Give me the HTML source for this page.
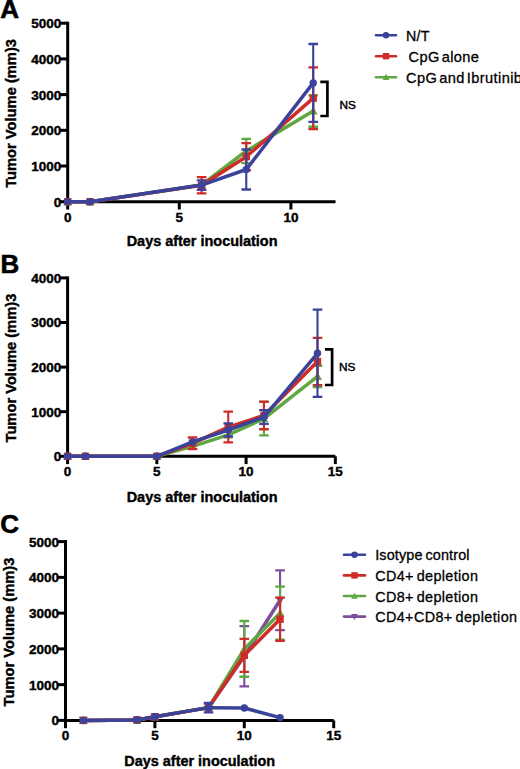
<!DOCTYPE html>
<html><head><meta charset="utf-8"><title>Tumor volume</title>
<style>
html,body{margin:0;padding:0;background:#fff;}
body{width:520px;height:769px;overflow:hidden;}
svg{display:block;font-family:"Liberation Sans",sans-serif;}
</style></head>
<body>
<svg width="520" height="769" viewBox="0 0 520 769" fill="#000">
<text x="0.3" y="18" font-size="26" font-weight="bold" stroke="#000" stroke-width="0.6">A</text>
<text transform="translate(15.8,113.45) rotate(-90)" text-anchor="middle" font-size="14.7" font-weight="bold" stroke="#000" stroke-width="0.4">Tumor Volume (mm)3</text>
<path d="M67.7,21.7 V201.7 H335.54" fill="none" stroke="#000" stroke-width="3"/>
<line x1="59.9" y1="201.7" x2="67.7" y2="201.7" stroke="#000" stroke-width="3"/>
<text x="61.3" y="206.6" text-anchor="end" font-size="13.5" font-weight="bold" stroke="#000" stroke-width="0.4">0</text>
<line x1="59.9" y1="166" x2="67.7" y2="166" stroke="#000" stroke-width="3"/>
<text x="61.3" y="170.9" text-anchor="end" font-size="13.5" font-weight="bold" stroke="#000" stroke-width="0.4">1000</text>
<line x1="59.9" y1="130.3" x2="67.7" y2="130.3" stroke="#000" stroke-width="3"/>
<text x="61.3" y="135.2" text-anchor="end" font-size="13.5" font-weight="bold" stroke="#000" stroke-width="0.4">2000</text>
<line x1="59.9" y1="94.6" x2="67.7" y2="94.6" stroke="#000" stroke-width="3"/>
<text x="61.3" y="99.5" text-anchor="end" font-size="13.5" font-weight="bold" stroke="#000" stroke-width="0.4">3000</text>
<line x1="59.9" y1="58.9" x2="67.7" y2="58.9" stroke="#000" stroke-width="3"/>
<text x="61.3" y="63.8" text-anchor="end" font-size="13.5" font-weight="bold" stroke="#000" stroke-width="0.4">4000</text>
<line x1="59.9" y1="23.2" x2="67.7" y2="23.2" stroke="#000" stroke-width="3"/>
<text x="61.3" y="28.1" text-anchor="end" font-size="13.5" font-weight="bold" stroke="#000" stroke-width="0.4">5000</text>
<line x1="67.7" y1="201.7" x2="67.7" y2="209.5" stroke="#000" stroke-width="3"/>
<text x="67.7" y="221.7" text-anchor="middle" font-size="13.5" font-weight="bold" stroke="#000" stroke-width="0.4">0</text>
<line x1="179.3" y1="201.7" x2="179.3" y2="209.5" stroke="#000" stroke-width="3"/>
<text x="179.3" y="221.7" text-anchor="middle" font-size="13.5" font-weight="bold" stroke="#000" stroke-width="0.4">5</text>
<line x1="290.9" y1="201.7" x2="290.9" y2="209.5" stroke="#000" stroke-width="3"/>
<text x="290.9" y="221.7" text-anchor="middle" font-size="13.5" font-weight="bold" stroke="#000" stroke-width="0.4">10</text>
<text x="202.1" y="246.4" text-anchor="middle" font-size="14.45" font-weight="bold" stroke="#000" stroke-width="0.4">Days after inoculation</text>
<path d="M246.26,138.87 V163.14" stroke="#5ea742" stroke-width="2.1" fill="none"/>
<path d="M241.46,138.87 H251.06 M241.46,163.14 H251.06" stroke="#5ea742" stroke-width="2.3" fill="none"/>
<path d="M313.22,95.31 V126.73" stroke="#5ea742" stroke-width="2.1" fill="none"/>
<path d="M308.42,95.31 H318.02 M308.42,126.73 H318.02" stroke="#5ea742" stroke-width="2.3" fill="none"/>
<polyline points="67.7,201.7 90.02,201.7 201.62,184.92 246.26,151.01 313.22,111.02" fill="none" stroke="#5ea742" stroke-width="3.5" stroke-linejoin="round"/>
<polygon points="63.26,205.25 72.14,205.25 67.7,197.26" fill="#5ea742"/>
<polygon points="85.58,205.25 94.46,205.25 90.02,197.26" fill="#5ea742"/>
<polygon points="197.18,188.47 206.06,188.47 201.62,180.48" fill="#5ea742"/>
<polygon points="241.82,154.56 250.7,154.56 246.26,146.57" fill="#5ea742"/>
<polygon points="308.78,114.57 317.66,114.57 313.22,106.58" fill="#5ea742"/>
<path d="M201.62,177.17 V193.31" stroke="#cf2b27" stroke-width="2.1" fill="none"/>
<path d="M196.82,177.17 H206.42 M196.82,193.31 H206.42" stroke="#cf2b27" stroke-width="2.3" fill="none"/>
<path d="M246.26,143.08 V170.36" stroke="#cf2b27" stroke-width="2.1" fill="none"/>
<path d="M241.46,143.08 H251.06 M241.46,170.36 H251.06" stroke="#cf2b27" stroke-width="2.3" fill="none"/>
<path d="M313.22,67.29 V129.05" stroke="#cf2b27" stroke-width="2.1" fill="none"/>
<path d="M308.42,67.29 H318.02 M308.42,129.05 H318.02" stroke="#cf2b27" stroke-width="2.3" fill="none"/>
<polyline points="67.7,201.7 90.02,201.7 201.62,185.24 246.26,156.72 313.22,98.17" fill="none" stroke="#cf2b27" stroke-width="3.5" stroke-linejoin="round"/>
<rect x="64" y="198" width="7.4" height="7.4" fill="#cf2b27"/>
<rect x="86.32" y="198" width="7.4" height="7.4" fill="#cf2b27"/>
<rect x="197.92" y="181.54" width="7.4" height="7.4" fill="#cf2b27"/>
<rect x="242.56" y="153.02" width="7.4" height="7.4" fill="#cf2b27"/>
<rect x="309.52" y="94.47" width="7.4" height="7.4" fill="#cf2b27"/>
<path d="M201.62,180.28 V189.92" stroke="#3a4399" stroke-width="2.1" fill="none"/>
<path d="M196.82,180.28 H206.42 M196.82,189.92 H206.42" stroke="#3a4399" stroke-width="2.3" fill="none"/>
<path d="M246.26,149.51 V189.49" stroke="#3a4399" stroke-width="2.1" fill="none"/>
<path d="M241.46,149.51 H251.06 M241.46,189.49 H251.06" stroke="#3a4399" stroke-width="2.3" fill="none"/>
<path d="M313.22,44.01 V121.84" stroke="#3a4399" stroke-width="2.1" fill="none"/>
<path d="M308.42,44.01 H318.02 M308.42,121.84 H318.02" stroke="#3a4399" stroke-width="2.3" fill="none"/>
<polyline points="67.7,201.7 90.02,201.7 201.62,185.1 246.26,169.5 313.22,82.93" fill="none" stroke="#3a4399" stroke-width="3.5" stroke-linejoin="round"/>
<circle cx="67.7" cy="201.7" r="3.7" fill="#3a4399"/>
<circle cx="90.02" cy="201.7" r="3.7" fill="#3a4399"/>
<circle cx="201.62" cy="185.1" r="3.7" fill="#3a4399"/>
<circle cx="246.26" cy="169.5" r="3.7" fill="#3a4399"/>
<circle cx="313.22" cy="82.93" r="3.7" fill="#3a4399"/>
<line x1="376" y1="35.2" x2="396" y2="35.2" stroke="#3a4399" stroke-width="2.6" stroke-linecap="round"/>
<circle cx="386" cy="35.2" r="3.2" fill="#3a4399"/>
<text x="406" y="40.8" font-size="14.2" stroke="#000" stroke-width="0.3" letter-spacing="0.3" word-spacing="0">N/T</text>
<line x1="376" y1="56.2" x2="396" y2="56.2" stroke="#cf2b27" stroke-width="2.6" stroke-linecap="round"/>
<rect x="382.8" y="53" width="6.4" height="6.4" fill="#cf2b27"/>
<text x="408.5" y="61.8" font-size="14.6" stroke="#000" stroke-width="0.3" letter-spacing="0.4" word-spacing="-2.5">CpG alone</text>
<line x1="376" y1="77.2" x2="396" y2="77.2" stroke="#5ea742" stroke-width="2.6" stroke-linecap="round"/>
<polygon points="382.64,79.89 389.36,79.89 386,73.84" fill="#5ea742"/>
<text x="406" y="82.8" font-size="14.6" stroke="#000" stroke-width="0.3" letter-spacing="0.4" word-spacing="-2.4">CpG and Ibrutinib</text>
<path d="M320.3,81.9 H327.4 V116 H320.3" fill="none" stroke="#000" stroke-width="2.7"/>
<text x="339.6" y="108.7" font-size="11.8" stroke="#000" stroke-width="0.45">NS</text>
<text x="0.6" y="272.8" font-size="26" font-weight="bold" stroke="#000" stroke-width="0.6">B</text>
<text transform="translate(15.8,368.1) rotate(-90)" text-anchor="middle" font-size="14.7" font-weight="bold" stroke="#000" stroke-width="0.4">Tumor Volume (mm)3</text>
<path d="M67.6,276.4 V456.3 H335.35" fill="none" stroke="#000" stroke-width="3"/>
<line x1="59.8" y1="456.3" x2="67.6" y2="456.3" stroke="#000" stroke-width="3"/>
<text x="61.2" y="461.2" text-anchor="end" font-size="13.5" font-weight="bold" stroke="#000" stroke-width="0.4">0</text>
<line x1="59.8" y1="411.7" x2="67.6" y2="411.7" stroke="#000" stroke-width="3"/>
<text x="61.2" y="416.6" text-anchor="end" font-size="13.5" font-weight="bold" stroke="#000" stroke-width="0.4">1000</text>
<line x1="59.8" y1="367.1" x2="67.6" y2="367.1" stroke="#000" stroke-width="3"/>
<text x="61.2" y="372" text-anchor="end" font-size="13.5" font-weight="bold" stroke="#000" stroke-width="0.4">2000</text>
<line x1="59.8" y1="322.5" x2="67.6" y2="322.5" stroke="#000" stroke-width="3"/>
<text x="61.2" y="327.4" text-anchor="end" font-size="13.5" font-weight="bold" stroke="#000" stroke-width="0.4">3000</text>
<line x1="59.8" y1="277.9" x2="67.6" y2="277.9" stroke="#000" stroke-width="3"/>
<text x="61.2" y="282.8" text-anchor="end" font-size="13.5" font-weight="bold" stroke="#000" stroke-width="0.4">4000</text>
<line x1="67.6" y1="456.3" x2="67.6" y2="464.1" stroke="#000" stroke-width="3"/>
<text x="67.6" y="476.3" text-anchor="middle" font-size="13.5" font-weight="bold" stroke="#000" stroke-width="0.4">0</text>
<line x1="156.85" y1="456.3" x2="156.85" y2="464.1" stroke="#000" stroke-width="3"/>
<text x="156.85" y="476.3" text-anchor="middle" font-size="13.5" font-weight="bold" stroke="#000" stroke-width="0.4">5</text>
<line x1="246.1" y1="456.3" x2="246.1" y2="464.1" stroke="#000" stroke-width="3"/>
<text x="246.1" y="476.3" text-anchor="middle" font-size="13.5" font-weight="bold" stroke="#000" stroke-width="0.4">10</text>
<line x1="335.35" y1="456.3" x2="335.35" y2="464.1" stroke="#000" stroke-width="3"/>
<text x="335.35" y="476.3" text-anchor="middle" font-size="13.5" font-weight="bold" stroke="#000" stroke-width="0.4">15</text>
<text x="202.1" y="501.5" text-anchor="middle" font-size="14.45" font-weight="bold" stroke="#000" stroke-width="0.4">Days after inoculation</text>
<path d="M263.95,401.84 V435.47" stroke="#5ea742" stroke-width="2.1" fill="none"/>
<path d="M259.15,401.84 H268.75 M259.15,435.47 H268.75" stroke="#5ea742" stroke-width="2.3" fill="none"/>
<path d="M317.5,365.76 V387.17" stroke="#5ea742" stroke-width="2.1" fill="none"/>
<path d="M312.7,365.76 H322.3 M312.7,387.17 H322.3" stroke="#5ea742" stroke-width="2.3" fill="none"/>
<polyline points="67.6,456.3 85.45,456.3 156.85,456.3 192.55,446.4 228.25,434.89 263.95,418.66 317.5,376.47" fill="none" stroke="#5ea742" stroke-width="3.5" stroke-linejoin="round"/>
<polygon points="63.16,459.85 72.04,459.85 67.6,451.86" fill="#5ea742"/>
<polygon points="81.01,459.85 89.89,459.85 85.45,451.86" fill="#5ea742"/>
<polygon points="152.41,459.85 161.29,459.85 156.85,451.86" fill="#5ea742"/>
<polygon points="188.11,449.95 196.99,449.95 192.55,441.96" fill="#5ea742"/>
<polygon points="223.81,438.44 232.69,438.44 228.25,430.45" fill="#5ea742"/>
<polygon points="259.51,422.21 268.39,422.21 263.95,414.22" fill="#5ea742"/>
<polygon points="313.06,380.02 321.94,380.02 317.5,372.03" fill="#5ea742"/>
<path d="M192.55,437.52 V449.21" stroke="#cf2b27" stroke-width="2.1" fill="none"/>
<path d="M187.75,437.52 H197.35 M187.75,449.21 H197.35" stroke="#cf2b27" stroke-width="2.3" fill="none"/>
<path d="M228.25,411.7 V442.47" stroke="#cf2b27" stroke-width="2.1" fill="none"/>
<path d="M223.45,411.7 H233.05 M223.45,442.47 H233.05" stroke="#cf2b27" stroke-width="2.3" fill="none"/>
<path d="M263.95,401.58 V429.23" stroke="#cf2b27" stroke-width="2.1" fill="none"/>
<path d="M259.15,401.58 H268.75 M259.15,429.23 H268.75" stroke="#cf2b27" stroke-width="2.3" fill="none"/>
<path d="M317.5,337.8 V385.16" stroke="#cf2b27" stroke-width="2.1" fill="none"/>
<path d="M312.7,337.8 H322.3 M312.7,385.16 H322.3" stroke="#cf2b27" stroke-width="2.3" fill="none"/>
<polyline points="67.6,456.3 85.45,456.3 156.85,456.3 192.55,443.37 228.25,427.09 263.95,415.4 317.5,361.48" fill="none" stroke="#cf2b27" stroke-width="3.5" stroke-linejoin="round"/>
<rect x="63.9" y="452.6" width="7.4" height="7.4" fill="#cf2b27"/>
<rect x="81.75" y="452.6" width="7.4" height="7.4" fill="#cf2b27"/>
<rect x="153.15" y="452.6" width="7.4" height="7.4" fill="#cf2b27"/>
<rect x="188.85" y="439.67" width="7.4" height="7.4" fill="#cf2b27"/>
<rect x="224.55" y="423.39" width="7.4" height="7.4" fill="#cf2b27"/>
<rect x="260.25" y="411.7" width="7.4" height="7.4" fill="#cf2b27"/>
<rect x="313.8" y="357.78" width="7.4" height="7.4" fill="#cf2b27"/>
<path d="M228.25,423.47 V436.5" stroke="#3a4399" stroke-width="2.1" fill="none"/>
<path d="M223.45,423.47 H233.05 M223.45,436.5 H233.05" stroke="#3a4399" stroke-width="2.3" fill="none"/>
<path d="M263.95,410.14 V423.97" stroke="#3a4399" stroke-width="2.1" fill="none"/>
<path d="M259.15,410.14 H268.75 M259.15,423.97 H268.75" stroke="#3a4399" stroke-width="2.3" fill="none"/>
<path d="M317.5,309.7 V396.94" stroke="#3a4399" stroke-width="2.1" fill="none"/>
<path d="M312.7,309.7 H322.3 M312.7,396.94 H322.3" stroke="#3a4399" stroke-width="2.3" fill="none"/>
<polyline points="67.6,456.3 85.45,456.3 156.85,456.3 192.55,441.85 228.25,429.99 263.95,417.05 317.5,353.32" fill="none" stroke="#3a4399" stroke-width="3.5" stroke-linejoin="round"/>
<circle cx="67.6" cy="456.3" r="3.7" fill="#3a4399"/>
<circle cx="85.45" cy="456.3" r="3.7" fill="#3a4399"/>
<circle cx="156.85" cy="456.3" r="3.7" fill="#3a4399"/>
<circle cx="192.55" cy="441.85" r="3.7" fill="#3a4399"/>
<circle cx="228.25" cy="429.99" r="3.7" fill="#3a4399"/>
<circle cx="263.95" cy="417.05" r="3.7" fill="#3a4399"/>
<circle cx="317.5" cy="353.32" r="3.7" fill="#3a4399"/>
<path d="M324.9,349.3 H332.1 V385 H324.9" fill="none" stroke="#000" stroke-width="2.7"/>
<text x="339" y="370.6" font-size="11.8" stroke="#000" stroke-width="0.45">NS</text>
<text x="0.3" y="532.8" font-size="26" font-weight="bold" stroke="#000" stroke-width="0.6">C</text>
<text transform="translate(14.1,632) rotate(-90)" text-anchor="middle" font-size="14.7" font-weight="bold" stroke="#000" stroke-width="0.4">Tumor Volume (mm)3</text>
<path d="M65.5,540.1 V720.4 H333.7" fill="none" stroke="#000" stroke-width="3"/>
<line x1="57.7" y1="720.4" x2="65.5" y2="720.4" stroke="#000" stroke-width="3"/>
<text x="59.1" y="725.3" text-anchor="end" font-size="13.5" font-weight="bold" stroke="#000" stroke-width="0.4">0</text>
<line x1="57.7" y1="684.64" x2="65.5" y2="684.64" stroke="#000" stroke-width="3"/>
<text x="59.1" y="689.54" text-anchor="end" font-size="13.5" font-weight="bold" stroke="#000" stroke-width="0.4">1000</text>
<line x1="57.7" y1="648.88" x2="65.5" y2="648.88" stroke="#000" stroke-width="3"/>
<text x="59.1" y="653.78" text-anchor="end" font-size="13.5" font-weight="bold" stroke="#000" stroke-width="0.4">2000</text>
<line x1="57.7" y1="613.12" x2="65.5" y2="613.12" stroke="#000" stroke-width="3"/>
<text x="59.1" y="618.02" text-anchor="end" font-size="13.5" font-weight="bold" stroke="#000" stroke-width="0.4">3000</text>
<line x1="57.7" y1="577.36" x2="65.5" y2="577.36" stroke="#000" stroke-width="3"/>
<text x="59.1" y="582.26" text-anchor="end" font-size="13.5" font-weight="bold" stroke="#000" stroke-width="0.4">4000</text>
<line x1="57.7" y1="541.6" x2="65.5" y2="541.6" stroke="#000" stroke-width="3"/>
<text x="59.1" y="546.5" text-anchor="end" font-size="13.5" font-weight="bold" stroke="#000" stroke-width="0.4">5000</text>
<line x1="65.5" y1="720.4" x2="65.5" y2="728.2" stroke="#000" stroke-width="3"/>
<text x="65.5" y="740.4" text-anchor="middle" font-size="13.5" font-weight="bold" stroke="#000" stroke-width="0.4">0</text>
<line x1="154.9" y1="720.4" x2="154.9" y2="728.2" stroke="#000" stroke-width="3"/>
<text x="154.9" y="740.4" text-anchor="middle" font-size="13.5" font-weight="bold" stroke="#000" stroke-width="0.4">5</text>
<line x1="244.3" y1="720.4" x2="244.3" y2="728.2" stroke="#000" stroke-width="3"/>
<text x="244.3" y="740.4" text-anchor="middle" font-size="13.5" font-weight="bold" stroke="#000" stroke-width="0.4">10</text>
<line x1="333.7" y1="720.4" x2="333.7" y2="728.2" stroke="#000" stroke-width="3"/>
<text x="333.7" y="740.4" text-anchor="middle" font-size="13.5" font-weight="bold" stroke="#000" stroke-width="0.4">15</text>
<text x="199.7" y="765.6" text-anchor="middle" font-size="14.45" font-weight="bold" stroke="#000" stroke-width="0.4">Days after inoculation</text>
<path d="M244.3,626.07 V686.36" stroke="#7e4d9b" stroke-width="2.1" fill="none"/>
<path d="M239.5,626.07 H249.1 M239.5,686.36 H249.1" stroke="#7e4d9b" stroke-width="2.3" fill="none"/>
<path d="M280.06,570.39 V630.11" stroke="#7e4d9b" stroke-width="2.1" fill="none"/>
<path d="M275.26,570.39 H284.86 M275.26,630.11 H284.86" stroke="#7e4d9b" stroke-width="2.3" fill="none"/>
<polyline points="83.38,720.4 137.02,720.04 154.9,716.82 208.54,707.63 244.3,656.21 280.06,600.25" fill="none" stroke="#7e4d9b" stroke-width="3.5" stroke-linejoin="round"/>
<polygon points="78.94,716.85 87.82,716.85 83.38,724.84" fill="#7e4d9b"/>
<polygon points="132.58,716.49 141.46,716.49 137.02,724.48" fill="#7e4d9b"/>
<polygon points="150.46,713.27 159.34,713.27 154.9,721.26" fill="#7e4d9b"/>
<polygon points="204.1,704.08 212.98,704.08 208.54,712.07" fill="#7e4d9b"/>
<polygon points="239.86,652.66 248.74,652.66 244.3,660.65" fill="#7e4d9b"/>
<polygon points="275.62,596.69 284.5,596.69 280.06,604.69" fill="#7e4d9b"/>
<path d="M244.3,620.99 V676.77" stroke="#5ea742" stroke-width="2.1" fill="none"/>
<path d="M239.5,620.99 H249.1 M239.5,676.77 H249.1" stroke="#5ea742" stroke-width="2.3" fill="none"/>
<path d="M280.06,586.66 V639.58" stroke="#5ea742" stroke-width="2.1" fill="none"/>
<path d="M275.26,586.66 H284.86 M275.26,639.58 H284.86" stroke="#5ea742" stroke-width="2.3" fill="none"/>
<polyline points="83.38,720.4 137.02,720.04 154.9,716.82 208.54,707.63 244.3,648.88 280.06,613.12" fill="none" stroke="#5ea742" stroke-width="3.5" stroke-linejoin="round"/>
<polygon points="78.94,723.95 87.82,723.95 83.38,715.96" fill="#5ea742"/>
<polygon points="132.58,723.59 141.46,723.59 137.02,715.6" fill="#5ea742"/>
<polygon points="150.46,720.38 159.34,720.38 154.9,712.38" fill="#5ea742"/>
<polygon points="204.1,711.19 212.98,711.19 208.54,703.19" fill="#5ea742"/>
<polygon points="239.86,652.43 248.74,652.43 244.3,644.44" fill="#5ea742"/>
<polygon points="275.62,616.67 284.5,616.67 280.06,608.68" fill="#5ea742"/>
<path d="M244.3,638.9 V671.8" stroke="#cf2b27" stroke-width="2.1" fill="none"/>
<path d="M239.5,638.9 H249.1 M239.5,671.8 H249.1" stroke="#cf2b27" stroke-width="2.3" fill="none"/>
<path d="M280.06,597.56 V640.83" stroke="#cf2b27" stroke-width="2.1" fill="none"/>
<path d="M275.26,597.56 H284.86 M275.26,640.83 H284.86" stroke="#cf2b27" stroke-width="2.3" fill="none"/>
<polyline points="83.38,720.4 137.02,720.04 154.9,716.82 208.54,707.63 244.3,655.35 280.06,619.2" fill="none" stroke="#cf2b27" stroke-width="3.5" stroke-linejoin="round"/>
<rect x="79.68" y="716.7" width="7.4" height="7.4" fill="#cf2b27"/>
<rect x="133.32" y="716.34" width="7.4" height="7.4" fill="#cf2b27"/>
<rect x="151.2" y="713.12" width="7.4" height="7.4" fill="#cf2b27"/>
<rect x="204.84" y="703.93" width="7.4" height="7.4" fill="#cf2b27"/>
<rect x="240.6" y="651.65" width="7.4" height="7.4" fill="#cf2b27"/>
<rect x="276.36" y="615.5" width="7.4" height="7.4" fill="#cf2b27"/>
<path d="M208.54,702.98 V712.28" stroke="#3a4399" stroke-width="2.1" fill="none"/>
<path d="M203.74,702.98 H213.34 M203.74,712.28 H213.34" stroke="#3a4399" stroke-width="2.3" fill="none"/>
<polyline points="83.38,720.4 137.02,720.04 154.9,716.82 208.54,707.63 244.3,707.96 280.06,717.61" fill="none" stroke="#3a4399" stroke-width="3.5" stroke-linejoin="round"/>
<circle cx="83.38" cy="720.4" r="3.7" fill="#3a4399"/>
<circle cx="137.02" cy="720.04" r="3.7" fill="#3a4399"/>
<circle cx="154.9" cy="716.82" r="3.7" fill="#3a4399"/>
<circle cx="208.54" cy="707.63" r="3.7" fill="#3a4399"/>
<circle cx="244.3" cy="707.96" r="3.7" fill="#3a4399"/>
<circle cx="280.06" cy="717.61" r="3.7" fill="#3a4399"/>
<line x1="344" y1="554.8" x2="365" y2="554.8" stroke="#3a4399" stroke-width="2.6" stroke-linecap="round"/>
<circle cx="354.5" cy="554.8" r="3.2" fill="#3a4399"/>
<text x="375.2" y="560.4" font-size="14.4" stroke="#000" stroke-width="0.3" letter-spacing="0.15" word-spacing="-1.4">Isotype control</text>
<line x1="344" y1="575.4" x2="365" y2="575.4" stroke="#cf2b27" stroke-width="2.6" stroke-linecap="round"/>
<rect x="351.3" y="572.2" width="6.4" height="6.4" fill="#cf2b27"/>
<text x="375.2" y="581" font-size="14.4" stroke="#000" stroke-width="0.3" letter-spacing="0.35" word-spacing="-1.4">CD4+ depletion</text>
<line x1="344" y1="596" x2="365" y2="596" stroke="#5ea742" stroke-width="2.6" stroke-linecap="round"/>
<polygon points="351.14,598.69 357.86,598.69 354.5,592.64" fill="#5ea742"/>
<text x="375.2" y="601.6" font-size="14.4" stroke="#000" stroke-width="0.3" letter-spacing="0.35" word-spacing="-1.4">CD8+ depletion</text>
<line x1="344" y1="616.6" x2="365" y2="616.6" stroke="#7e4d9b" stroke-width="2.6" stroke-linecap="round"/>
<polygon points="351.14,613.91 357.86,613.91 354.5,619.96" fill="#7e4d9b"/>
<text x="375.2" y="622.2" font-size="14.4" stroke="#000" stroke-width="0.3" letter-spacing="0.38" word-spacing="-1.4">CD4+CD8+ depletion</text>
</svg>
</body></html>
